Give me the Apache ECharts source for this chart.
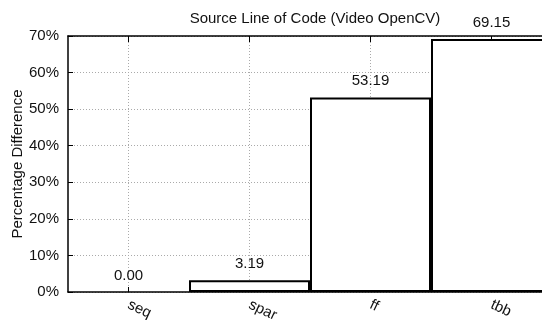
<!DOCTYPE html>
<html>
<head>
<meta charset="utf-8">
<script src="https://cdn.jsdelivr.net/npm/echarts@6/dist/echarts.min.js"></script>
<style>html,body{margin:0;padding:0;background:#fff}#c{width:542px;height:320px}</style>
</head>
<body>
<div id="c"></div>
<script>
var categories = ['seq', 'spar', 'ff', 'tbb'];
var values = [0.00, 3.19, 53.19, 69.15];
var yTicks = [0, 10, 20, 30, 40, 50, 60, 70];
var titleText = 'Source Line of Code (Video OpenCV)';
var yName = 'Percentage Difference';

var FONT = '"Liberation Sans", Arial, Helvetica, sans-serif';
var chart = echarts.init(document.getElementById('c'), null, {renderer: 'canvas'});
var gridLineStyle = {color: '#aaa', width: 1, type: [1, 2]};
chart.setOption({
  animation: false,
  backgroundColor: '#fff',
  textStyle: {fontFamily: FONT},
  title: {
    text: titleText,
    left: 310, top: 6, textAlign: 'center',
    textStyle: {fontFamily: FONT, fontSize: 15, fontWeight: 'normal', color: '#111'}
  },
  grid: {left: 68, top: 36, right: -10, bottom: 28, containLabel: false, outerBoundsMode: 'none'},
  xAxis: [{
    type: 'category',
    data: categories,
    position: 'bottom',
    axisLine: {show: true, lineStyle: {color: '#000', width: 1.5}},
    axisTick: {show: true, inside: true, length: 5, alignWithLabel: true, lineStyle: {color: '#000', width: 1}},
    axisLabel: {rotate: -25, margin: 12, fontSize: 15, color: '#111', fontFamily: FONT},
    splitLine: {show: true, alignWithLabel: true, lineStyle: gridLineStyle}
  }, {
    type: 'category',
    data: categories,
    position: 'top',
    axisLine: {show: true, lineStyle: {color: '#000', width: 1.5}},
    axisTick: {show: true, inside: true, length: 6, alignWithLabel: true, lineStyle: {color: '#000', width: 1}},
    axisLabel: {show: false},
    splitLine: {show: false}
  }],
  yAxis: {
    type: 'value',
    min: yTicks[0], max: yTicks[yTicks.length - 1], interval: 10,
    name: yName, nameLocation: 'middle', nameGap: 43, nameMoveOverlap: false,
    nameTextStyle: {fontSize: 15, color: '#111', fontFamily: FONT},
    axisLine: {show: true, lineStyle: {color: '#000', width: 1.5}},
    axisTick: {show: true, inside: true, length: 5, lineStyle: {color: '#000', width: 1}},
    axisLabel: {formatter: '{value}%', fontSize: 15, color: '#111', margin: 9, fontFamily: FONT},
    splitLine: {show: true, lineStyle: gridLineStyle}
  },
  series: [{
    type: 'bar',
    xAxisIndex: 0,
    data: values.map(function (v) {
      return v === 0 ? {value: v, itemStyle: {borderWidth: 0}} : v;
    }),
    barCategoryGap: '0%',
    itemStyle: {color: '#fff', borderColor: '#000', borderWidth: 2},
    label: {
      show: true, position: 'top', distance: 9,
      fontSize: 15, color: '#111', fontFamily: FONT,
      formatter: function (p) { return p.value.toFixed(2); }
    }
  }]
});
</script>
</body>
</html>
